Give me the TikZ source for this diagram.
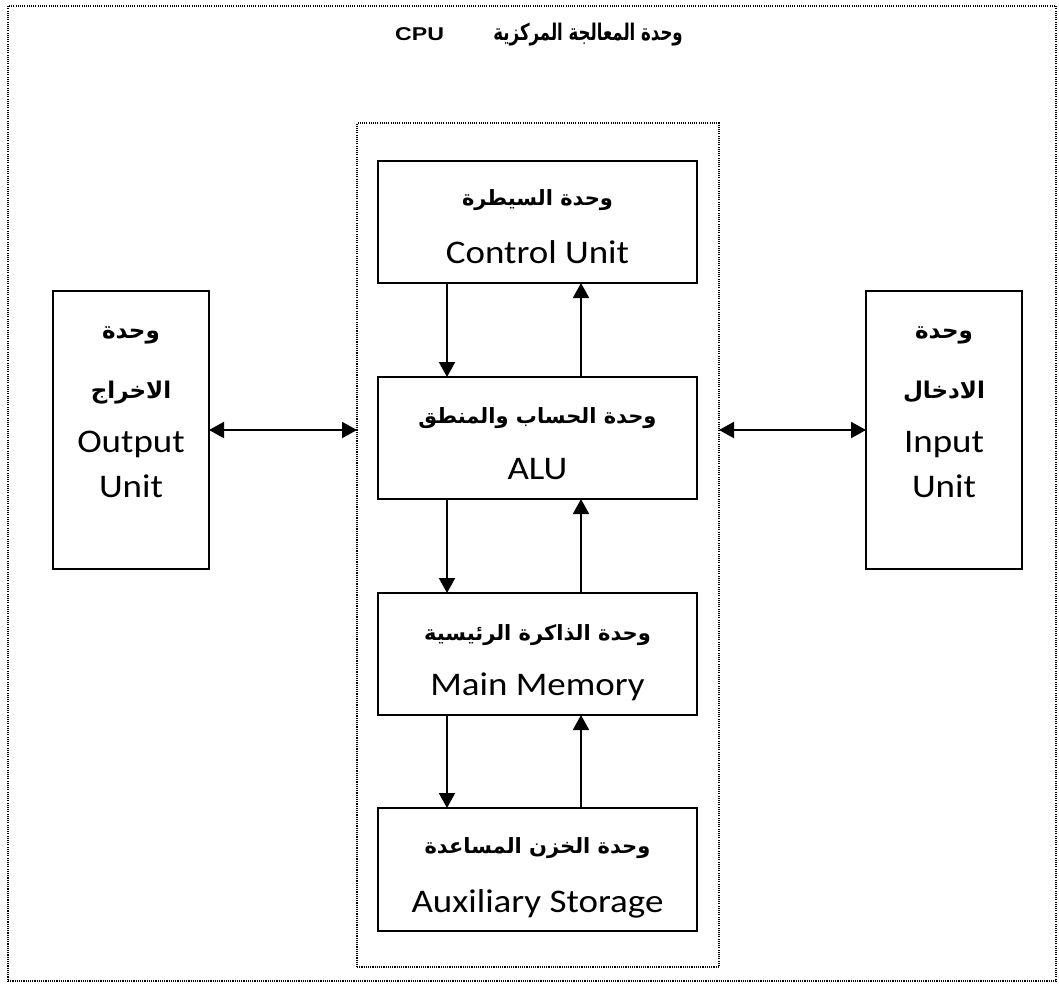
\documentclass[tikz,border=0pt]{standalone}
\usepackage{fontspec}
\usetikzlibrary{arrows.meta,calc}
\TeXXeTstate=1
\setmainfont{Carlito}[FakeStretch=1.12]
\newfontfamily\arfont[Script=Arabic]{DejaVu Sans}
\newfontfamily\headarfont[Script=Arabic,FakeStretch=0.72]{DejaVu Sans}
\newfontfamily\headfont{Liberation Sans}[FakeStretch=1.25]

\begin{document}
\begin{tikzpicture}[x=1pt,y=-1pt,
  frame/.style={draw, line width=1.1pt, dash pattern=on 1.1pt off 1.1pt, inner sep=0pt, outer sep=0pt},
  unitbox/.style={draw, line width=2pt, minimum width=319pt, minimum height=122pt, inner sep=0pt, outer sep=0pt},
  sidebox/.style={draw, line width=2pt, minimum width=156pt, minimum height=278pt, inner sep=0pt, outer sep=0pt},
  artext/.style={anchor=base, inner sep=0pt, font=\arfont\bfseries\fontsize{21}{25}\selectfont},
  entext/.style={anchor=base, inner sep=0pt, font=\fontsize{33}{38}\selectfont},
  sideartext/.style={anchor=base, inner sep=0pt, font=\arfont\bfseries\fontsize{23}{28}\selectfont},
  sideentext/.style={anchor=base, inner sep=0pt, font=\fontsize{33}{38}\selectfont},
  flow/.style={line width=2pt, -{Triangle[length=15pt,width=16pt]}},
  twoway/.style={line width=2pt, {Triangle[length=15pt,width=16pt]}-{Triangle[length=15pt,width=16pt]}}
]
\useasboundingbox (0,0) rectangle (1059,983);

% dotted frames: whole CPU and its core
\node[frame, minimum width=1048pt, minimum height=975pt] (outer) at (532,493.5) {};
\node[frame, minimum width=362pt, minimum height=844pt] (inner) at (538,545) {};

% title
\node[anchor=base west, inner sep=0pt, font=\headfont\bfseries\fontsize{18.5}{22}\selectfont] (titlecpu) at (395,40) {CPU};
\node[anchor=base east, inner sep=0pt, font=\headarfont\bfseries\fontsize{23}{27}\selectfont] (titlear) at (683,40) {\beginR وحدة المعالجة المركزية\endR};

% central units
\node[unitbox] (cu)  at (537.5,222) {};
\node[unitbox] (alu) at (537.5,438) {};
\node[unitbox] (mem) at (537.5,654) {};
\node[unitbox, minimum height=123pt] (aux) at (537.5,869.5) {};

\node[artext] (cuar)  at (537.5,205) {\beginR وحدة السيطرة\endR};
\node[entext] (cuen)  at (537.5,263) {Control Unit};
\node[artext] (aluar) at (537.5,423) {\beginR وحدة الحساب والمنطق\endR};
\node[entext] (aluen) at (537.5,479) {ALU};
\node[artext] (memar) at (537.5,640) {\beginR وحدة الذاكرة الرئيسية\endR};
\node[entext] (memen) at (537.5,695) {Main Memory};
\node[artext] (auxar) at (537.5,853) {\beginR وحدة الخزن المساعدة\endR};
\node[entext] (auxen) at (537.5,912) {Auxiliary Storage};

% side units
\node[sidebox] (out) at (131,430) {};
\node[sidebox] (in)  at (944,430) {};

\node[sideartext] (outar1) at (131,338) {\beginR وحدة\endR};
\node[sideartext] (outar2) at (131,398) {\beginR الاخراج\endR};
\node[sideentext] (outen1) at (131,452) {Output};
\node[sideentext] (outen2) at (131,497) {Unit};

\node[sideartext] (inar1) at (944,338) {\beginR وحدة\endR};
\node[sideartext] (inar2) at (944,398) {\beginR الادخال\endR};
\node[sideentext] (inen1) at (944,452) {Input};
\node[sideentext] (inen2) at (944,497) {Unit};

% vertical flows
\draw[flow] ([xshift=-90.5pt]cu.south)  -- ([xshift=-90.5pt]alu.north);
\draw[flow] ([xshift=43.5pt]alu.north)  -- ([xshift=43.5pt]cu.south);
\draw[flow] ([xshift=-90.5pt]alu.south) -- ([xshift=-90.5pt]mem.north);
\draw[flow] ([xshift=43.5pt]mem.north)  -- ([xshift=43.5pt]alu.south);
\draw[flow] ([xshift=-90.5pt]mem.south) -- ([xshift=-90.5pt]aux.north);
\draw[flow] ([xshift=43.5pt]aux.north)  -- ([xshift=43.5pt]mem.south);

% links to output and input
\draw[twoway] (out.east) -- (out.east -| inner.west);
\draw[twoway] (in.west) -- (in.west -| inner.east);
\end{tikzpicture}
\end{document}
